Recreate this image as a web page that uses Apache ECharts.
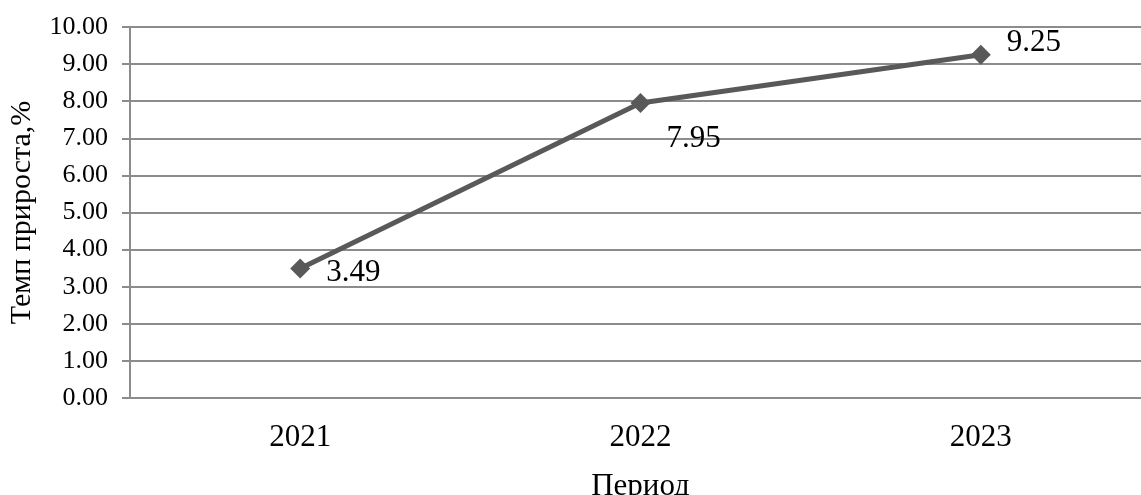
<!DOCTYPE html>
<html>
<head>
<meta charset="utf-8">
<script src="https://cdn.jsdelivr.net/npm/echarts@6/dist/echarts.min.js"></script>
<style>
  html, body { margin: 0; padding: 0; background: #fff; }
  #chart { width: 1141px; height: 495px; }
</style>
</head>
<body>
<div id="chart"></div>
<script>
// Growth rate by period
const periods = ['2021', '2022', '2023'];
const growthRate = [3.49, 7.95, 9.25];
const yAxisTitle = 'Темп прироста,%';
const xAxisTitle = 'Период';

// per-point label offsets around each marker
const labelOffsets = [[11, 4], [11, 36], [11, -12]];

const serif = '"Liberation Serif", "Times New Roman", serif';
const gridColor = '#8c8c8c';

const chart = echarts.init(document.getElementById('chart'), null, { renderer: 'canvas' });
chart.setOption({
  animation: false,
  backgroundColor: '#ffffff',
  grid: {
    left: 130, width: 1021, top: 27, height: 371,
    containLabel: false, outerBoundsMode: 'none'
  },
  xAxis: {
    type: 'category',
    data: periods,
    boundaryGap: true,
    name: xAxisTitle,
    nameLocation: 'middle',
    nameGap: 73,
    nameTextStyle: { fontFamily: serif, fontSize: 31, color: '#000' },
    axisLine: { show: true, lineStyle: { color: gridColor, width: 2 } },
    axisTick: { show: false },
    axisLabel: { fontFamily: serif, fontSize: 31, color: '#000', margin: 24 }
  },
  yAxis: {
    type: 'value',
    min: 0,
    max: 10,
    interval: 1,
    name: yAxisTitle,
    nameLocation: 'middle',
    nameGap: 93,
    nameRotate: 90,
    nameTextStyle: { fontFamily: serif, fontSize: 30, color: '#000' },
    axisLine: { show: true, lineStyle: { color: gridColor, width: 2 } },
    axisTick: { show: true, length: 8, lineStyle: { color: gridColor, width: 2 } },
    axisLabel: {
      fontFamily: serif, fontSize: 26, color: '#000', margin: 22,
      formatter: v => v.toFixed(2)
    },
    splitLine: { show: true, lineStyle: { color: gridColor, width: 2 } }
  },
  series: [{
    type: 'line',
    data: growthRate.map((v, i) => ({
      value: v,
      label: { offset: labelOffsets[i] }
    })),
    symbol: 'diamond',
    symbolSize: 20,
    lineStyle: { color: '#595959', width: 5 },
    itemStyle: { color: '#595959' },
    label: {
      show: true,
      position: 'right',
      fontFamily: serif,
      fontSize: 31,
      color: '#000',
      formatter: p => p.value.toFixed(2)
    }
  }]
});
</script>
</body>
</html>
